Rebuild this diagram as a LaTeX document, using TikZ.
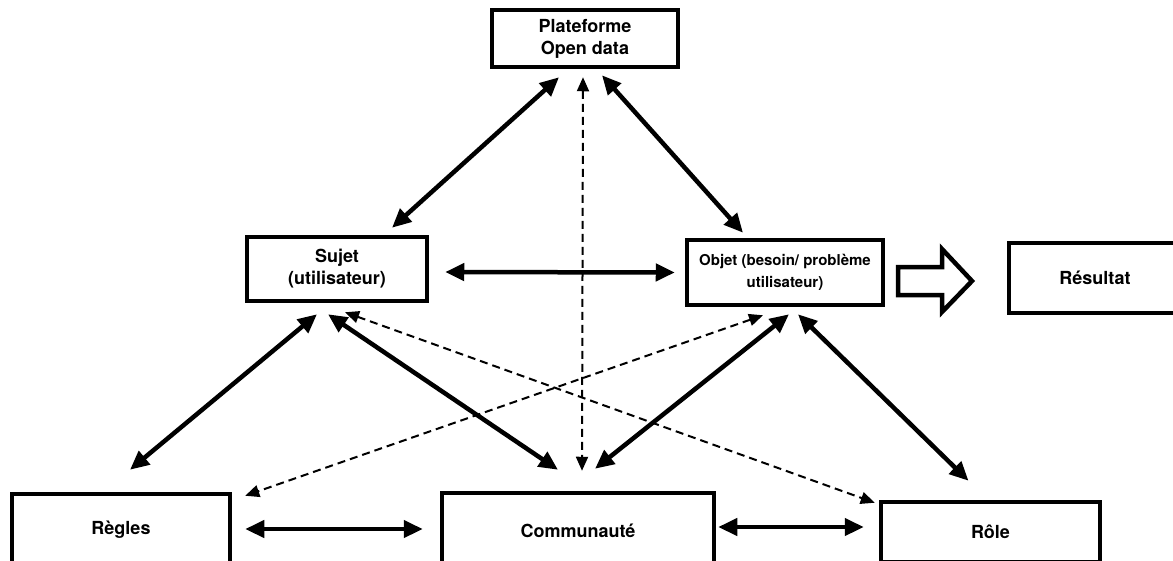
\documentclass[tikz,border=0pt]{standalone}
\usepackage{fontspec}
\setmainfont{TeX Gyre Heros}
\usetikzlibrary{arrows.meta}
\tikzset{
  boite/.style={draw, line width=4.5pt, align=center, inner sep=2pt,
    font=\fontsize{18}{22}\selectfont\bfseries},
  fleche/.style={{Triangle[length=19pt,width=17pt]}-{Triangle[length=19pt,width=17pt]},
    line width=4.5pt},
  pointille/.style={{Triangle[length=14pt,width=12pt]}-{Triangle[length=14pt,width=12pt]},
    line width=2pt, dash pattern=on 8pt off 5pt},
}

\begin{document}
\begin{tikzpicture}[x=1pt,y=-1pt]
  \useasboundingbox (0,0) rectangle (1173,560);

  % les boites
  \node [boite, minimum width=186pt, minimum height=57pt] (plat) at (585,38.5) {Plateforme\\Open data};
  \node [boite, minimum width=180pt, minimum height=64pt] (sujet) at (337,269) {Sujet\\(utilisateur)};
  \node [boite, minimum width=196pt, minimum height=65pt, font=\fontsize{15}{22}\selectfont\bfseries]
        (objet) at (785,272.5) {Objet (besoin/ problème\\utilisateur)};
  \node [boite, minimum width=172pt, minimum height=70pt] (result) at (1095,278) {Résultat};
  \node [boite, minimum width=218pt, minimum height=72pt] (regles) at (121,530) {Règles};
  \node [boite, minimum width=272pt, minimum height=76pt] (commu) at (578,531) {Communauté};
  \node [boite, minimum width=219pt, minimum height=60pt] (role) at (990.5,532) {Rôle};

  % fleche creuse vers le resultat
  \draw [line width=4.5pt] (898,267) -- (942,267) -- (942,249) -- (972,281)
        -- (942,312) -- (942,295) -- (898,295) -- cycle;

  % liens pleins
  \draw [fleche] ([xshift=-26pt,yshift=-8pt]plat.south) -- ([xshift=55pt,yshift=7pt]sujet.north);
  \draw [fleche] ([xshift=17pt,yshift=-6pt]plat.south) -- ([xshift=-42pt,yshift=5pt]objet.north);
  \draw [fleche] ([xshift=16pt,yshift=-3pt]sujet.east) -- ([xshift=-10pt]objet.west);
  \draw [fleche] ([xshift=-20pt,yshift=-11pt]sujet.south) -- ([xshift=9pt,yshift=22pt]regles.north);
  \draw [fleche] ([xshift=-9pt,yshift=-11pt]sujet.south) -- ([xshift=-20pt,yshift=21pt]commu.north);
  \draw [fleche] ([xshift=4pt,yshift=-7pt]objet.south) -- ([xshift=17pt,yshift=22pt]commu.north);
  \draw [fleche] ([xshift=13pt,yshift=-7pt]objet.south) -- ([xshift=-22pt,yshift=19pt]role.north);
  \draw [fleche] ([xshift=13pt,yshift=1pt]regles.east) -- ([xshift=-17pt,yshift=2pt]commu.west);
  \draw [fleche] ([xshift=2pt,yshift=4pt]commu.east) -- ([xshift=-15pt,yshift=5pt]role.west);

  % liens en pointilles
  \draw [pointille] ([xshift=-2pt,yshift=-8pt]plat.south) -- ([xshift=4pt,yshift=20pt]commu.north);
  \draw [pointille] ([xshift=8pt,yshift=-9pt]sujet.south) -- ([xshift=-4pt,yshift=-3pt]role.north west);
  \draw [pointille] ([xshift=-22pt,yshift=-8pt]objet.south) -- ([xshift=13pt,yshift=-4pt]regles.north east);
\end{tikzpicture}
\end{document}
